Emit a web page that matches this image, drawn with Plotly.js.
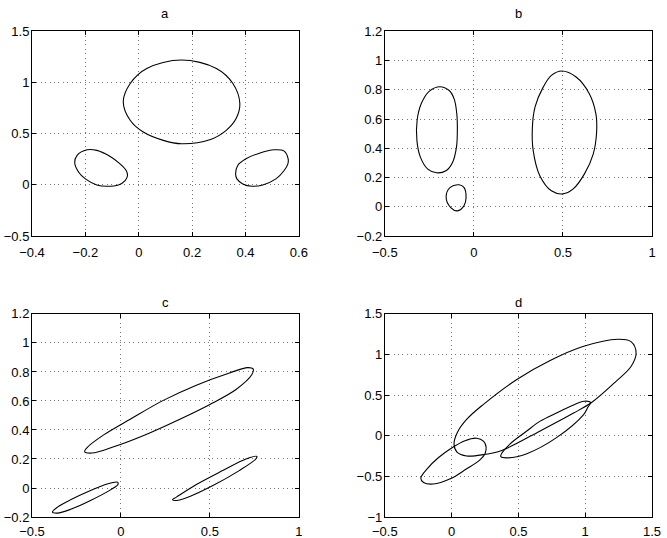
<!DOCTYPE html>
<html>
<head>
<meta charset="utf-8">
<script src="https://cdn.plot.ly/plotly-3.0.1.min.js"></script>
<style>
  html, body { margin: 0; padding: 0; background: #fff; }
  #chart { width: 667px; height: 538px; }
</style>
</head>
<body>
<div id="chart"></div>
<script>
// panel a: egg on top, two small ovals below
var aEggX = [-0.058, -0.032, 0.030, 0.160, 0.291, 0.353, 0.379, 0.365, 0.328, 0.266, 0.160, 0.092, 0.017, -0.032];
var aEggY = [0.810, 0.990, 1.137, 1.219, 1.137, 0.990, 0.794, 0.647, 0.533, 0.441, 0.402, 0.435, 0.516, 0.631];
var aLeftX = [-0.240, -0.231, -0.194, -0.157, -0.107, -0.070, -0.047, -0.042, -0.051, -0.076, -0.119, -0.157, -0.200, -0.225];
var aLeftY = [0.216, 0.288, 0.343, 0.337, 0.278, 0.206, 0.141, 0.092, 0.042, 0.000, -0.013, 0.000, 0.059, 0.124];
var aRightX = [0.363, 0.371, 0.402, 0.452, 0.508, 0.545, 0.560, 0.559, 0.545, 0.514, 0.465, 0.425, 0.390, 0.368];
var aRightY = [0.108, 0.190, 0.255, 0.310, 0.343, 0.330, 0.255, 0.206, 0.141, 0.059, 0.000, -0.013, 0.010, 0.059];

// panel b
var bLeftX = [-0.191, -0.139, -0.111, -0.096, -0.093, -0.098, -0.120, -0.157, -0.209, -0.259, -0.300, -0.320, -0.319, -0.296, -0.250];
var bLeftY = [0.821, 0.795, 0.738, 0.635, 0.521, 0.407, 0.304, 0.247, 0.233, 0.258, 0.338, 0.453, 0.590, 0.704, 0.791];
var bSmallX = [-0.083, -0.056, -0.044, -0.056, -0.093, -0.130, -0.156, -0.133];
var bSmallY = [0.151, 0.133, 0.064, 0.007, -0.027, -0.005, 0.069, 0.133];
var bRightX = [0.494, 0.574, 0.648, 0.685, 0.689, 0.670, 0.620, 0.556, 0.500, 0.435, 0.370, 0.333, 0.328, 0.343, 0.389, 0.435];
var bRightY = [0.928, 0.887, 0.773, 0.635, 0.510, 0.361, 0.224, 0.121, 0.089, 0.110, 0.213, 0.384, 0.533, 0.681, 0.818, 0.898];

// panel c
var cBigX = [-0.204, -0.190, -0.097, 0.052, 0.238, 0.424, 0.610, 0.712, 0.743, 0.736, 0.647, 0.500, 0.331, 0.145, -0.041, -0.162];
var cBigY = [0.250, 0.279, 0.366, 0.474, 0.604, 0.709, 0.793, 0.830, 0.821, 0.782, 0.679, 0.576, 0.474, 0.371, 0.284, 0.241];
var cLowX = [-0.385, -0.357, -0.283, -0.171, -0.078, -0.019, -0.017, -0.059, -0.171, -0.283, -0.357];
var cLowY = [-0.166, -0.132, -0.081, -0.017, 0.028, 0.040, 0.024, -0.013, -0.086, -0.147, -0.173];
var cRightX = [0.290, 0.312, 0.424, 0.572, 0.703, 0.764, 0.758, 0.665, 0.517, 0.387, 0.312];
var cRightY = [-0.081, -0.063, 0.024, 0.120, 0.200, 0.218, 0.200, 0.120, 0.017, -0.058, -0.086];

// panel d
var dBigX = [0.018, 0.042, 0.112, 0.236, 0.485, 0.734, 0.983, 1.244, 1.343, 1.381, 1.343, 1.231, 1.050, 0.913, 0.663, 0.375, 0.238, 0.113, 0.040];
var dBigY = [-0.100, 0.038, 0.201, 0.384, 0.690, 0.923, 1.098, 1.188, 1.159, 1.016, 0.853, 0.670, 0.412, 0.280, 0.060, -0.180, -0.232, -0.248, -0.200];
var dMidX = [0.368, 0.438, 0.560, 0.663, 0.784, 0.913, 0.990, 1.040, 1.020, 0.988, 0.788, 0.563, 0.413, 0.370];
var dMidY = [-0.240, -0.100, 0.055, 0.180, 0.280, 0.380, 0.425, 0.410, 0.350, 0.260, -0.020, -0.220, -0.272, -0.260];
var dSmallX = [-0.231, -0.180, -0.100, 0.000, 0.100, 0.187, 0.240, 0.258, 0.250, 0.210, 0.110, -0.010, -0.137, -0.210];
var dSmallY = [-0.520, -0.400, -0.270, -0.150, -0.060, -0.030, -0.070, -0.140, -0.220, -0.300, -0.410, -0.530, -0.594, -0.575];

var titles = ['a', 'b', 'c', 'd'];

function loop(xs, ys, xa, ya) {
    return {
        x: xs.concat([xs[0]]),
        y: ys.concat([ys[0]]),
        xaxis: xa,
        yaxis: ya,
        mode: 'lines',
        type: 'scatter',
        line: { color: '#000', width: 1.1, shape: 'spline', smoothing: 1 },
        hoverinfo: 'skip',
        showlegend: false
    };
}

var data = [
    loop(aEggX, aEggY, 'x', 'y'),
    loop(aLeftX, aLeftY, 'x', 'y'),
    loop(aRightX, aRightY, 'x', 'y'),
    loop(bLeftX, bLeftY, 'x2', 'y2'),
    loop(bSmallX, bSmallY, 'x2', 'y2'),
    loop(bRightX, bRightY, 'x2', 'y2'),
    loop(cBigX, cBigY, 'x3', 'y3'),
    loop(cLowX, cLowY, 'x3', 'y3'),
    loop(cRightX, cRightY, 'x3', 'y3'),
    loop(dBigX, dBigY, 'x4', 'y4'),
    loop(dMidX, dMidY, 'x4', 'y4'),
    loop(dSmallX, dSmallY, 'x4', 'y4')
];

var font = { family: 'Liberation Sans, Arial, sans-serif', size: 13, color: '#000' };

function axis(domain, range, ticks, anchor, standoff) {
    return {
        domain: domain,
        range: range,
        anchor: anchor,
        tickmode: 'array',
        tickvals: ticks,
        showgrid: true,
        gridcolor: '#777',
        griddash: '1px,3.4px',
        gridwidth: 1,
        zeroline: false,
        showline: true,
        linecolor: '#000',
        linewidth: 1,
        mirror: 'ticks',
        ticks: 'inside',
        ticklen: 4,
        tickcolor: '#000',
        ticklabelstandoff: standoff,
        tickfont: font,
        fixedrange: true
    };
}

var leftDom = [0.048, 0.448], rightDom = [0.577, 0.9775];
var topDom = [0.561, 0.942], botDom = [0.039, 0.4165];

var layout = {
    width: 667,
    height: 538,
    margin: { l: 0, r: 0, t: 0, b: 0 },
    paper_bgcolor: '#fff',
    plot_bgcolor: '#fff',
    xaxis: axis(leftDom, [-0.4, 0.6], [-0.4, -0.2, 0, 0.2, 0.4, 0.6], 'y', 4),
    yaxis: axis(topDom, [-0.5, 1.5], [-0.5, 0, 0.5, 1, 1.5], 'x', -1),
    xaxis2: axis(rightDom, [-0.5, 1], [-0.5, 0, 0.5, 1], 'y2', 4),
    yaxis2: axis(topDom, [-0.2, 1.2], [-0.2, 0, 0.2, 0.4, 0.6, 0.8, 1, 1.2], 'x2', -1),
    xaxis3: axis(leftDom, [-0.5, 1], [-0.5, 0, 0.5, 1], 'y3', 2),
    yaxis3: axis(botDom, [-0.2, 1.2], [-0.2, 0, 0.2, 0.4, 0.6, 0.8, 1, 1.2], 'x3', -1),
    xaxis4: axis(rightDom, [-0.5, 1.5], [-0.5, 0, 0.5, 1, 1.5], 'y4', 2),
    yaxis4: axis(botDom, [-1, 1.5], [-1, -0.5, 0, 0.5, 1, 1.5], 'x4', -1),
    annotations: titles.map(function (t, i) {
        var dom = (i % 2 === 0) ? leftDom : rightDom;
        return {
            text: t,
            xref: 'paper', yref: 'paper',
            x: (dom[0] + dom[1]) / 2,
            y: i < 2 ? 1 - 14 / 538 : 1 - 302 / 538,
            xanchor: 'center', yanchor: 'middle',
            showarrow: false,
            font: font
        };
    })
};

Plotly.newPlot('chart', data, layout, { displayModeBar: false, staticPlot: true });
</script>
</body>
</html>
